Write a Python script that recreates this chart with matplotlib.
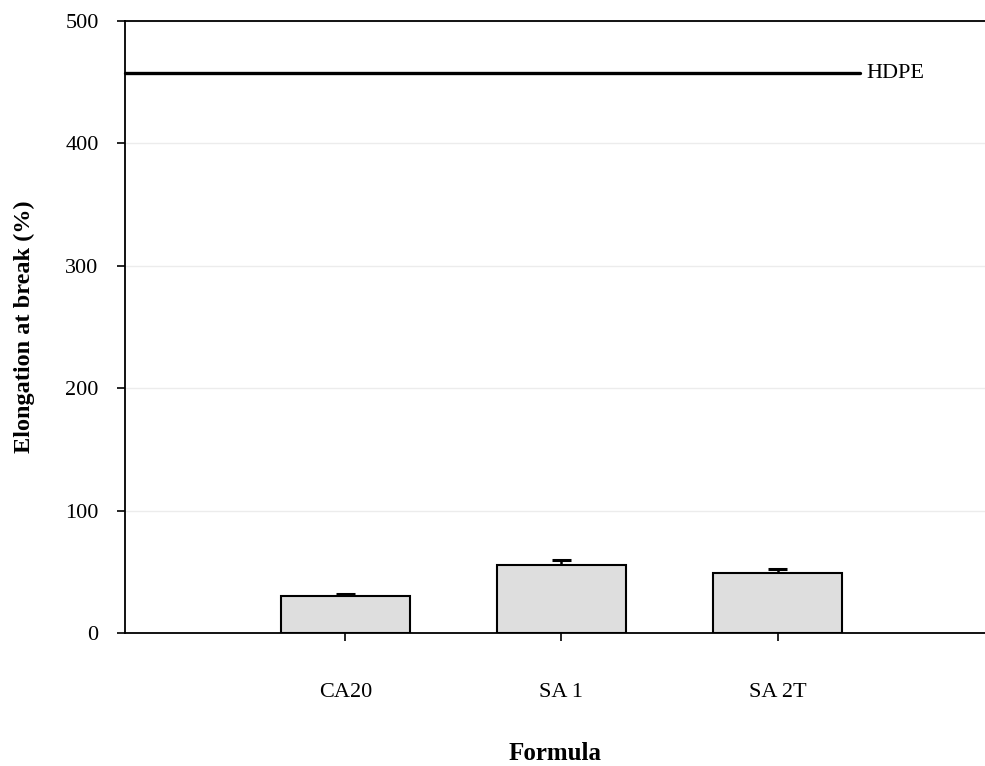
import matplotlib
matplotlib.use("Agg")
import matplotlib.pyplot as plt

# Elongation at break for each formula (mean and standard deviation)
formulas = ["CA20", "SA 1", "SA 2T"]
elongation = [30.2, 55.6, 49.0]
elongation_sd = [2.0, 4.0, 3.5]

# Reference material line
hdpe_label = "HDPE"
hdpe_value = 457.5

y_ticks = [0, 100, 200, 300, 400, 500]

plt.rcParams["font.family"] = ["Liberation Serif", "DejaVu Serif"]

fig = plt.figure(figsize=(9.85, 7.66), dpi=100)
ax = fig.add_axes([125 / 985, 1 - 633 / 766, 1 - 125 / 985, (633 - 21) / 766])

positions = list(range(1, len(formulas) + 1))

ax.bar(positions, elongation, width=0.6, color="#dedede", edgecolor="black",
       linewidth=1.5, zorder=3)

# upper error bars only
tops = [v + s for v, s in zip(elongation, elongation_sd)]
ax.vlines(positions, elongation, tops, color="black", linewidth=1.8, zorder=4)
ax.hlines(tops, [p - 0.045 for p in positions], [p + 0.045 for p in positions],
          color="black", linewidth=2.2, zorder=4)

# HDPE reference level
ax.plot([-0.02, 3.38], [hdpe_value, hdpe_value], color="black", linewidth=2.4,
        solid_capstyle="round", zorder=5, clip_on=False)
ax.text(3.41, hdpe_value, hdpe_label, fontsize=16, va="center", ha="left")

ax.set_xlim(-0.02, 3.96)
ax.set_ylim(0, 500)
ax.set_yticks(y_ticks)
ax.set_xticks(positions)
ax.set_xticklabels(formulas)

ax.yaxis.grid(True, color="#ececec", linewidth=1.0, zorder=0)
ax.set_axisbelow(True)

ax.spines["right"].set_visible(False)
for side in ("left", "bottom", "top"):
    ax.spines[side].set_linewidth(1.3)

ax.tick_params(axis="both", direction="out", length=6, width=1.2,
               labelsize=16)
ax.tick_params(axis="y", pad=13)
ax.tick_params(axis="x", pad=30)

ax.set_ylabel("Elongation at break (%)", fontsize=17.5, fontweight="bold",
              labelpad=22)
ax.set_xlabel("Formula", fontsize=18, fontweight="bold", labelpad=29)

fig.savefig("out.png", dpi=100)
